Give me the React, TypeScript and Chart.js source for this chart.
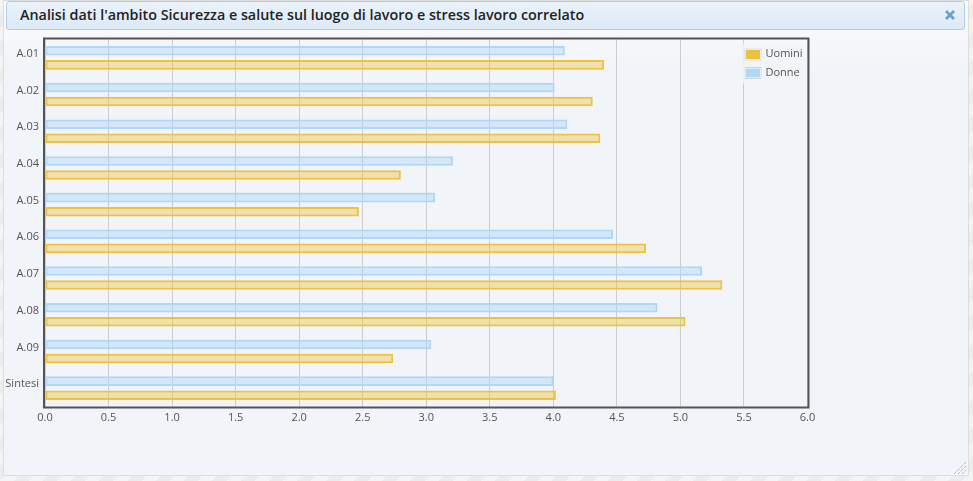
import React, { useEffect, useRef } from "react";
import { Chart, registerables } from "chart.js";

Chart.register(...registerables);

const TITLE = "Analisi dati l'ambito Sicurezza e salute sul luogo di lavoro e stress lavoro correlato";
const categories = ["A.01", "A.02", "A.03", "A.04", "A.05", "A.06", "A.07", "A.08", "A.09", "Sintesi"];
const uomini = [4.4, 4.31, 4.37, 2.8, 2.47, 4.73, 5.33, 5.04, 2.74, 4.02];
const donne = [4.09, 4.01, 4.11, 3.21, 3.07, 4.47, 5.17, 4.82, 3.04, 4.0];
const legendOrder = ["Uomini", "Donne"];
const xMin = 0;
const xMax = 6;
const xStep = 0.5;

const W = 973;
const H = 481;
const PLOT_TOP = 39.5;
const PLOT_BOTTOM = 406.5;
const PLOT_LEFT = 45;
const PLOT_RIGHT = 807.5;
const X_AXIS_H = 24;
const LABEL_COLOR = "#545454";
const FONT = "'Open Sans', 'DejaVu Sans', sans-serif";

const frameAndLegend = {
  id: "frameAndLegend",
  afterDraw(chart: any) {
    const { ctx, chartArea } = chart;
    const { left, top, right, bottom } = chartArea;
    ctx.save();
    ctx.strokeStyle = "#545454";
    ctx.lineWidth = 2;
    ctx.strokeRect(left - 1, top - 1, right - left + 2, bottom - top + 2);

    // legend (Flot style, north-east inside plot)
    const entries = legendOrder.map((name) => chart.data.datasets.find((d: any) => d.label === name));
    const lx = right - 63;
    const ly = top + 4;
    ctx.fillStyle = "rgba(241,244,248,0.85)";
    ctx.fillRect(lx - 3, ly, 62, 40);
    entries.forEach((ds: any, i: number) => {
      const y = ly + 5 + i * 18.5;
      ctx.fillStyle = "#ffffff";
      ctx.fillRect(lx, y, 17, 12);
      ctx.strokeStyle = "#d6d6d6";
      ctx.lineWidth = 1;
      ctx.strokeRect(lx + 0.5, y + 0.5, 16, 11);
      ctx.fillStyle = ds.borderColor;
      ctx.fillRect(lx + 1.5, y + 1.5, 14, 9);
      ctx.fillStyle = LABEL_COLOR;
      ctx.font = "11px " + FONT;
      ctx.textBaseline = "middle";
      ctx.textAlign = "left";
      ctx.fillText(ds.label, lx + 21, y + 5.5);
    });
    ctx.restore();
  },
};

function ChartCanvas() {
  const ref = useRef<HTMLCanvasElement | null>(null);
  useEffect(() => {
    if (!ref.current) return;
    const chart = new Chart(ref.current, {
      type: "bar",
      data: {
        labels: categories,
        datasets: [
          {
            label: "Donne",
            data: donne,
            backgroundColor: "rgba(175,216,248,0.45)",
            borderColor: "#afd8f8",
            borderWidth: 2,
            borderSkipped: false,
          },
          {
            label: "Uomini",
            data: uomini,
            backgroundColor: "rgba(237,194,64,0.4)",
            borderColor: "#edc240",
            borderWidth: 2,
            borderSkipped: false,
          },
        ],
      },
      options: {
        indexAxis: "y",
        responsive: false,
        animation: false,
        devicePixelRatio: 1,
        categoryPercentage: 0.765,
        barPercentage: 0.68,
        layout: {
          padding: {
            left: 0,
            top: PLOT_TOP,
            right: W - PLOT_RIGHT,
            bottom: H - PLOT_BOTTOM - X_AXIS_H,
          },
        },
        plugins: {
          legend: { display: false },
          tooltip: { enabled: false },
          title: { display: false },
        },
        scales: {
          x: {
            type: "linear",
            min: xMin,
            max: xMax,
            afterFit: (s: any) => {
              s.height = X_AXIS_H;
            },
            grid: { color: "#cccccc", lineWidth: 1, drawTicks: false },
            border: { display: false },
            ticks: {
              stepSize: xStep,
              color: LABEL_COLOR,
              font: { family: FONT, size: 11 },
              padding: 5,
              callback: (v: any) => Number(v).toFixed(1),
            },
          },
          y: {
            type: "category",
            afterFit: (s: any) => {
              s.width = PLOT_LEFT;
            },
            grid: { display: false, drawTicks: false },
            border: { display: false },
            ticks: {
              color: LABEL_COLOR,
              font: { family: FONT, size: 11 },
              padding: 6,
              labelOffset: -4,
            },
          },
        },
      },
      plugins: [frameAndLegend],
    });
    return () => chart.destroy();
  }, []);
  return (
    <canvas
      ref={ref}
      width={W}
      height={H}
      style={{ position: "absolute", left: 0, top: 0, width: W, height: H }}
    />
  );
}

export default function App() {
  return (
    <div
      style={{
        position: "fixed",
        left: 0,
        top: 0,
        width: W,
        height: H,
        overflow: "hidden",
        background:
          "repeating-linear-gradient(135deg, #f4f4f4 0px, #f4f4f4 10px, #ececec 10px, #ececec 20px)",
      }}
    >
      <div
        style={{
          position: "absolute",
          left: 3,
          top: 0,
          width: 966,
          height: 476,
          boxSizing: "border-box",
          border: "1px solid #dddddd",
          background: "linear-gradient(#fbfcfd 0px, #f1f4f8 70px, #f1f4f8 100%)",
        }}
      />
      <div
        style={{
          position: "absolute",
          left: 6,
          top: 1,
          width: 959,
          height: 29,
          boxSizing: "border-box",
          border: "1px solid #aed0ee",
          borderRadius: 3,
          background: "linear-gradient(#ebf3fb, #dce9f6)",
        }}
      />
      <div
        style={{
          position: "absolute",
          left: 20,
          top: 5,
          fontFamily: "'Open Sans', 'DejaVu Sans', sans-serif",
          fontWeight: 600,
          fontSize: 15,
          lineHeight: "18px",
          color: "#222222",
          whiteSpace: "nowrap",
          transform: "scaleX(0.955)",
          transformOrigin: "0 50%",
        }}
      >
        {TITLE}
      </div>
      <svg
        style={{ position: "absolute", left: 944, top: 9 }}
        width={12}
        height={12}
        viewBox="0 0 12 12"
      >
        <g stroke="#6c9fd0" strokeWidth={2.6} strokeLinecap="butt">
          <line x1={2} y1={2} x2={10} y2={10} />
          <line x1={10} y1={2} x2={2} y2={10} />
        </g>
      </svg>
      <svg
        style={{ position: "absolute", left: 953, top: 461 }}
        width={14}
        height={14}
        viewBox="0 0 14 14"
      >
        <g stroke="#6d9fd3" strokeWidth={1} strokeDasharray="1 1">
          <line x1={1} y1={13} x2={13} y2={1} />
          <line x1={5} y1={13} x2={13} y2={5} />
          <line x1={9} y1={13} x2={13} y2={9} />
        </g>
      </svg>
      <ChartCanvas />
    </div>
  );
}
